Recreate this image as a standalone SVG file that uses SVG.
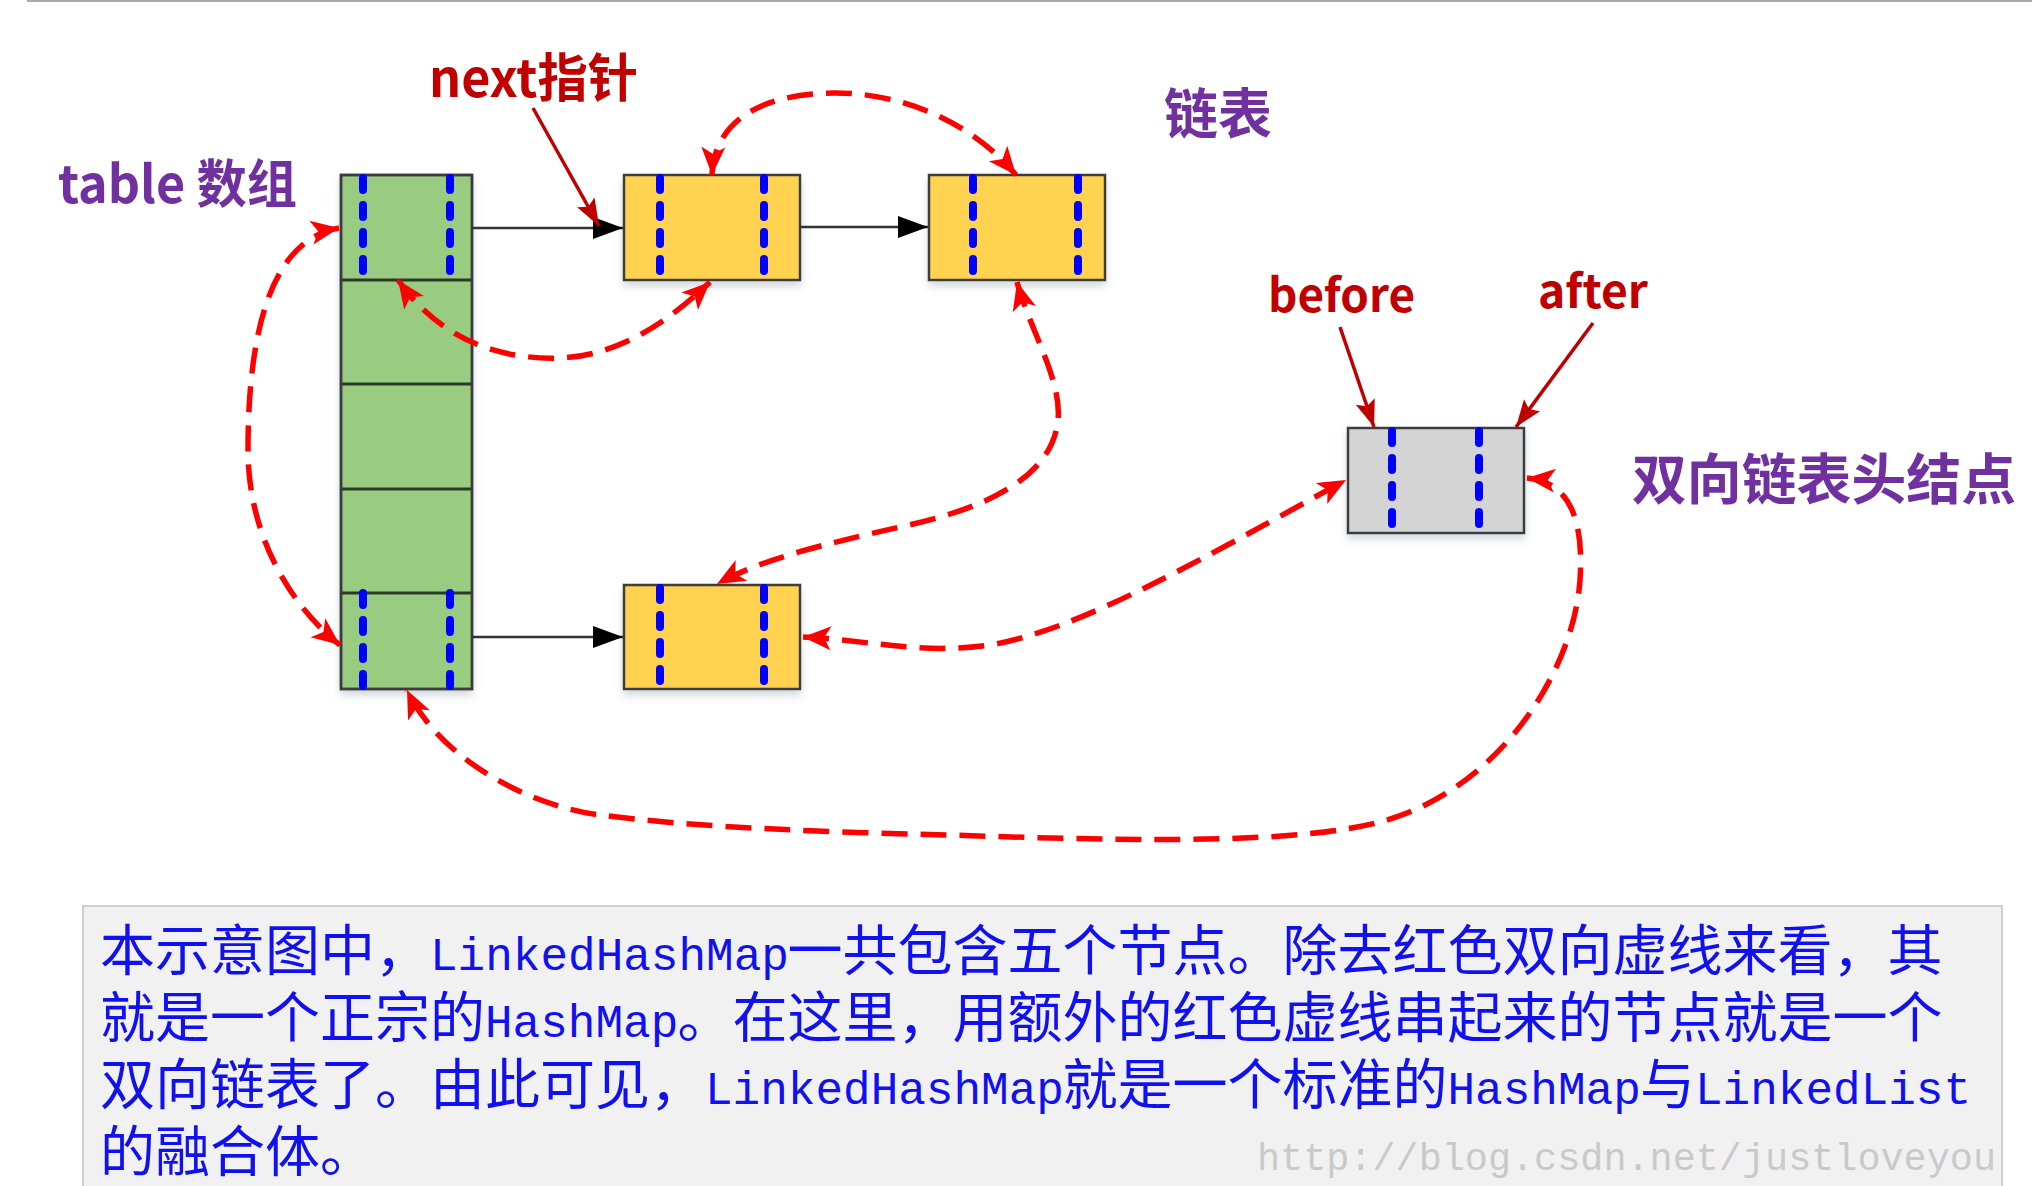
<svg xmlns="http://www.w3.org/2000/svg" width="2032" height="1186" viewBox="0 0 2032 1186">
<style>
.lbl{font-family:"Noto Sans CJK SC","Liberation Sans",sans-serif;font-weight:bold}
.purple{fill:#7030A0}
.red{fill:#C00000}
.box{stroke:#3c3c3c;stroke-width:2.5}
.green{fill:#99CC80}
.yellow{fill:#FFD24F}
.gray{fill:#D4D4D4}
.div{stroke:#2a3a28;stroke-width:3}
.bd{stroke:#0000FF;stroke-width:8;stroke-linecap:round;stroke-dasharray:12 15;fill:none}
.blk{stroke:#333;stroke-width:2.5;fill:none}
.ptr{stroke:#C00000;stroke-width:3.5;fill:none}
.rd{stroke:#FF0000;stroke-width:5.5;stroke-dasharray:26 13;fill:none}
.body{font-size:55px;fill:#1010F0}
.cjk{font-family:"Noto Sans CJK SC",sans-serif;font-size:55px}
.lat{font-family:"Liberation Mono",monospace;font-size:46px}
</style>
<defs>
<filter id="sh" x="-20%" y="-20%" width="140%" height="150%">
<feDropShadow dx="0" dy="5" stdDeviation="4" flood-color="#8090a0" flood-opacity="0.35"/>
</filter>
<marker id="ah-red" markerUnits="userSpaceOnUse" markerWidth="32" markerHeight="26" refX="28" refY="12" orient="auto-start-reverse" overflow="visible">
<path d="M0,0 L28,12 L0,24 L7,12 z" fill="#FF0000"/>
</marker>
<marker id="ah-ptr" markerUnits="userSpaceOnUse" markerWidth="30" markerHeight="22" refX="27" refY="10" orient="auto" overflow="visible">
<path d="M0,0 L27,10 L0,20 L5,10 z" fill="#C00000"/>
</marker>
<marker id="ah-blk" markerUnits="userSpaceOnUse" markerWidth="32" markerHeight="24" refX="30" refY="11" orient="auto" overflow="visible">
<path d="M0,0 L30,11 L0,22 z" fill="#000"/>
</marker>
</defs>
<rect x="0" y="0" width="2032" height="1186" fill="#FFFFFF"/>
<line x1="27" y1="1" x2="2032" y2="1" stroke="#AAAAAA" stroke-width="2"/>

<g id="table">
<rect class="box green" x="341" y="175" width="131" height="514" filter="url(#sh)"/>
<line class="div" x1="341" y1="280" x2="472" y2="280"/>
<line class="div" x1="341" y1="384" x2="472" y2="384"/>
<line class="div" x1="341" y1="489" x2="472" y2="489"/>
<line class="div" x1="341" y1="593" x2="472" y2="593"/>
<rect x="341" y="175" width="131" height="514" fill="none" class="box"/>
<path class="bd" d="M363,178 L363,277 M450,178 L450,277 M363,593 L363,686 M450,593 L450,686"/>
</g>

<g id="node1">
<rect class="box yellow" x="624" y="175" width="176" height="105" filter="url(#sh)"/>
<path class="bd" d="M660,178 L660,277 M764,178 L764,277"/>
</g>
<g id="node2">
<rect class="box yellow" x="929" y="175" width="176" height="105" filter="url(#sh)"/>
<path class="bd" d="M973,178 L973,277 M1078,178 L1078,277"/>
</g>
<g id="node3">
<rect class="box yellow" x="624" y="585" width="176" height="104" filter="url(#sh)"/>
<path class="bd" d="M660,588 L660,686 M764,588 L764,686"/>
</g>
<g id="head">
<rect class="box gray" x="1348" y="428" width="176" height="105" filter="url(#sh)"/>
<path class="bd" d="M1392,431 L1392,530 M1479,431 L1479,530"/>
</g>

<g id="labels">
<text class="lbl purple" x="58" y="203" font-size="52" textLength="239" lengthAdjust="spacingAndGlyphs">table 数组</text>
<text class="lbl red" x="429" y="97" font-size="52" textLength="209" lengthAdjust="spacingAndGlyphs">next指针</text>
<text class="lbl purple" x="1164" y="134" font-size="54" textLength="108" lengthAdjust="spacingAndGlyphs">链表</text>
<text class="lbl red" x="1268" y="312" font-size="46" textLength="147" lengthAdjust="spacingAndGlyphs">before</text>
<text class="lbl red" x="1538" y="308" font-size="46" textLength="110" lengthAdjust="spacingAndGlyphs">after</text>
<text class="lbl purple" x="1632" y="499" font-size="55" textLength="384" lengthAdjust="spacingAndGlyphs">双向链表头结点</text>
</g>

<g id="connectors">
<line class="blk" x1="472" y1="228" x2="623" y2="228" marker-end="url(#ah-blk)"/>
<line class="blk" x1="800" y1="227" x2="928" y2="227" marker-end="url(#ah-blk)"/>
<line class="blk" x1="472" y1="637" x2="623" y2="637" marker-end="url(#ah-blk)"/>
<line class="ptr" x1="533" y1="108" x2="599" y2="226" marker-end="url(#ah-ptr)"/>
<line class="ptr" x1="1340" y1="327" x2="1374" y2="427" marker-end="url(#ah-ptr)"/>
<line class="ptr" x1="1593" y1="323" x2="1516" y2="427" marker-end="url(#ah-ptr)"/>
<path class="rd" d="M339,228 C280,238 248,310 248,450 C248,540 295,610 340,645" marker-start="url(#ah-red)" marker-end="url(#ah-red)"/>
<path class="rd" d="M398,280 C440,340 500,360 560,358 C620,356 670,320 710,282" marker-start="url(#ah-red)" marker-end="url(#ah-red)"/>
<path class="rd" d="M712,175 C715,110 780,93 835,93 C900,93 970,120 1016,175" marker-start="url(#ah-red)" marker-end="url(#ah-red)"/>
<path class="rd" d="M1017,282 C1030,330 1062,380 1058,420 C1052,480 980,510 900,527 C820,545 760,560 717,584" marker-start="url(#ah-red)" marker-end="url(#ah-red)"/>
<path class="rd" d="M803,637 C870,640 920,655 990,645 C1080,630 1200,560 1346,480" marker-start="url(#ah-red)" marker-end="url(#ah-red)"/>
<path class="rd" d="M1527,478 C1570,482 1584,520 1580,580 C1574,670 1500,790 1380,822 C1300,843 1150,842 950,835 C830,832 700,828 600,815 C530,806 440,760 407,690" marker-start="url(#ah-red)" marker-end="url(#ah-red)"/>
</g>

<g id="note">
<rect x="83" y="906" width="1919" height="300" fill="#F1F1F1" stroke="#CFCFCF" stroke-width="2"/>
<text class="body"><tspan class="cjk" x="100" y="970">本示意图中，</tspan><tspan class="lat" x="430" y="970">LinkedHashMap</tspan><tspan class="cjk" x="787.5" y="970">一共包含五个节点。除去红色双向虚线来看，其</tspan><tspan class="cjk" x="100" y="1037">就是一个正宗的</tspan><tspan class="lat" x="485" y="1037">HashMap</tspan><tspan class="cjk" x="677.5" y="1037">。在这里，用额外的红色虚线串起来的节点就是一个</tspan><tspan class="cjk" x="100" y="1104">双向链表了。由此可见，</tspan><tspan class="lat" x="705" y="1104">LinkedHashMap</tspan><tspan class="cjk" x="1062.5" y="1104">就是一个标准的</tspan><tspan class="lat" x="1447.5" y="1104">HashMap</tspan><tspan class="cjk" x="1640" y="1104">与</tspan><tspan class="lat" x="1695" y="1104">LinkedList</tspan><tspan class="cjk" x="100" y="1171">的融合体。</tspan></text>
<text x="1257" y="1170" font-family="Liberation Mono, monospace" font-size="38.5" fill="#C9C9C9" textLength="739">http://blog.csdn.net/justloveyou</text>
</g>
</svg>
